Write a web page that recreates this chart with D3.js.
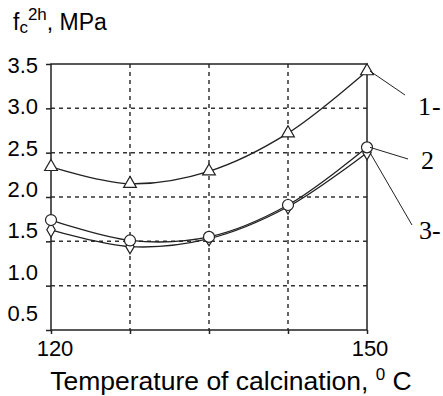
<!DOCTYPE html>
<html>
<head>
<meta charset="utf-8">
<script src="https://cdn.jsdelivr.net/npm/d3@7"></script>
<style>
  body { margin: 0; background: #fff; }
  svg { display: block; }
</style>
</head>
<body>
<svg id="chart" width="443" height="396"></svg>
<script>
// temperatures of calcination (deg C)
var temps = [120, 127.5, 135, 142.5, 150];
// compressive strength after 2 h, MPa
var series1 = [2.34, 2.15, 2.29, 2.72, 3.42];
var series2 = [1.74, 1.51, 1.55, 1.91, 2.56];
var series3 = [1.63, 1.44, 1.53, 1.89, 2.50];
var yTicks = [0.5, 1.0, 1.5, 2.0, 2.5, 3.0, 3.5];
var xTickLabels = [120, 150];
var seriesNames = ['1-', '2', '3-'];

var svg = d3.select('#chart');

var x = d3.scaleLinear().domain([120, 150]).range([51, 367]);
var y = d3.scaleLinear().domain([0.5, 3.5]).range([330, 64]);
// tick labels in the original sit a little higher toward the bottom
var yLab = d3.scaleLinear().domain([0.5, 3.5]).range([313, 65]);

var ink = '#222';
var sans = 'Liberation Sans, Arial, sans-serif';

// grid
svg.append('g')
  .selectAll('line')
  .data(yTicks.slice(1, -1))
  .join('line')
    .attr('x1', x(120)).attr('x2', x(150))
    .attr('y1', d => y(d)).attr('y2', d => y(d))
    .attr('stroke', '#333')
    .attr('stroke-width', 1.5)
    .attr('stroke-dasharray', '4,4');

svg.append('g')
  .selectAll('line')
  .data(temps.slice(1, -1))
  .join('line')
    .attr('x1', d => x(d)).attr('x2', d => x(d))
    .attr('y1', y(3.5)).attr('y2', y(0.5))
    .attr('stroke', '#333')
    .attr('stroke-width', 1.5)
    .attr('stroke-dasharray', '4,4');

// frame
svg.append('rect')
  .attr('x', x(120)).attr('y', y(3.5))
  .attr('width', x(150) - x(120)).attr('height', y(0.5) - y(3.5))
  .attr('fill', 'none')
  .attr('stroke', ink)
  .attr('stroke-width', 1.5);

// axes (ticks only, labels drawn separately)
var yAxis = d3.axisLeft(y).tickValues(yTicks).tickSize(5).tickFormat('');
svg.append('g').attr('transform', 'translate(' + x(120) + ',0)').call(yAxis)
  .call(g => g.select('.domain').remove())
  .selectAll('line').attr('stroke', ink).attr('stroke-width', 1.5);

var xAxis = d3.axisBottom(x).tickValues(temps).tickSize(4).tickFormat('');
svg.append('g').attr('transform', 'translate(0,' + y(0.5) + ')').call(xAxis)
  .call(g => g.select('.domain').remove())
  .selectAll('line').attr('stroke', ink).attr('stroke-width', 1.5);

svg.append('g')
  .selectAll('text')
  .data(yTicks)
  .join('text')
    .attr('x', 38)
    .attr('y', d => yLab(d))
    .attr('dy', '0.36em')
    .attr('text-anchor', 'end')
    .attr('font-family', sans)
    .attr('font-size', 22)
    .text(d => d.toFixed(1));

svg.append('g')
  .selectAll('text')
  .data(xTickLabels)
  .join('text')
    .attr('x', d => x(d) + (d === 120 ? 4 : 3))
    .attr('y', 356)
    .attr('text-anchor', 'middle')
    .attr('font-family', sans)
    .attr('font-size', 22)
    .text(d => d);

// axis titles
var yt = svg.append('text')
  .attr('x', 13).attr('y', 30)
  .attr('font-family', sans)
  .attr('font-size', 23);
yt.append('tspan').text('f');
yt.append('tspan').attr('font-size', 17).attr('dy', 3).text('c');
yt.append('tspan').attr('font-size', 17).attr('dy', -13).text('2h');
yt.append('tspan').attr('dy', 10).text(', MPa');

var xt = svg.append('text')
  .attr('x', 231).attr('y', 390)
  .attr('text-anchor', 'middle')
  .attr('font-family', sans)
  .attr('font-size', 26.5);
xt.append('tspan').text('Temperature of calcination, ');
xt.append('tspan').attr('font-size', 17).attr('dy', -10).text('0');
xt.append('tspan').attr('dy', 10).text(' C');

// curves
var line = d3.line()
  .x((d, i) => x(temps[i]))
  .y(d => y(d))
  .curve(d3.curveCatmullRom.alpha(0.5));

[series3, series2, series1].forEach(function (s) {
  svg.append('path')
    .datum(s)
    .attr('d', line)
    .attr('fill', 'none')
    .attr('stroke', ink)
    .attr('stroke-width', 1.3);
});

// markers
var sym = function (type, size) {
  return d3.symbol().type(type).size(size);
};

svg.append('g').selectAll('path')
  .data(series3)
  .join('path')
    .attr('transform', (d, i) => 'translate(' + x(temps[i]) + ',' + y(d) + ')')
    .attr('d', sym(d3.symbolDiamond, 60))
    .attr('fill', '#fff').attr('stroke', ink).attr('stroke-width', 1.2);

svg.append('g').selectAll('circle')
  .data(series2)
  .join('circle')
    .attr('cx', (d, i) => x(temps[i]))
    .attr('cy', d => y(d))
    .attr('r', 5.5)
    .attr('fill', '#fff').attr('stroke', ink).attr('stroke-width', 1.2);

svg.append('g').selectAll('path')
  .data(series1)
  .join('path')
    .attr('transform', (d, i) => 'translate(' + x(temps[i]) + ',' + y(d) + ')')
    .attr('d', sym(d3.symbolTriangle, 70))
    .attr('fill', '#fff').attr('stroke', ink).attr('stroke-width', 1.2);

// leader lines and series labels
var last = temps.length - 1;
var leaders = [
  { v: series1[last], x2: 405, y2: 95, lx: 418, ly: 115 },
  { v: series2[last], x2: 408, y2: 159, lx: 421, ly: 169 },
  { v: series3[last], x2: 412, y2: 225, lx: 419, ly: 239 }
];

svg.append('g').selectAll('line')
  .data(leaders)
  .join('line')
    .attr('x1', x(150) + 3).attr('y1', d => y(d.v))
    .attr('x2', d => d.x2).attr('y2', d => d.y2)
    .attr('stroke', ink).attr('stroke-width', 1);

svg.append('g').selectAll('text')
  .data(leaders)
  .join('text')
    .attr('x', d => d.lx).attr('y', d => d.ly)
    .attr('font-family', 'Liberation Serif, Times New Roman, serif')
    .attr('font-size', 26)
    .attr('letter-spacing', (d, i) => i === 0 ? 1 : 0)
    .text((d, i) => seriesNames[i]);
</script>
</body>
</html>
